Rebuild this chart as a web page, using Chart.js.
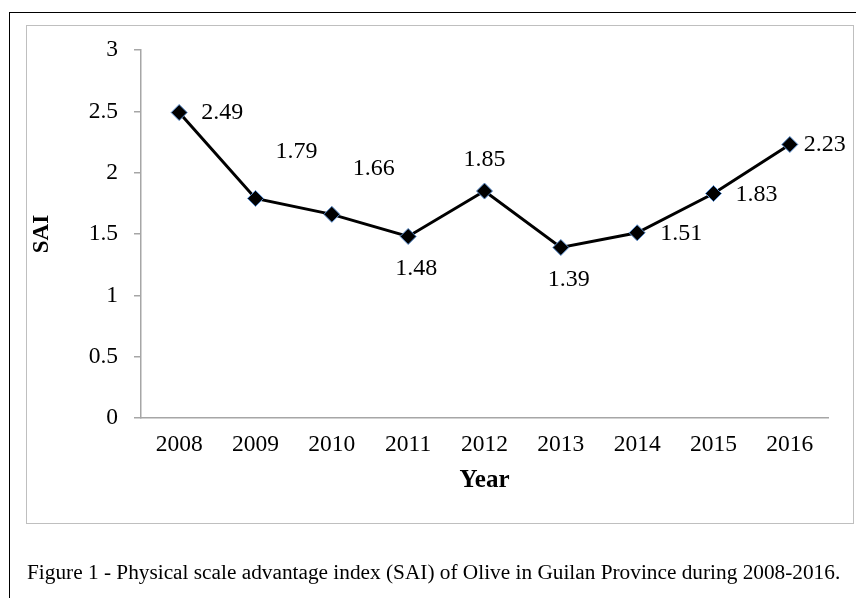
<!DOCTYPE html>
<html>
<head>
<meta charset="utf-8">
<script src="https://cdn.jsdelivr.net/npm/chart.js@4"></script>
<style>
  html, body { margin:0; padding:0; background:#fff; width:856px; height:598px; overflow:hidden; }
  #outer { position:absolute; left:9px; top:12px; width:900px; height:700px; border:1.5px solid #000; box-sizing:border-box; }
  #inner { position:absolute; left:26px; top:25px; width:828px; height:499px; border:1.5px solid #bfbfbf; box-sizing:border-box; }
  #wrap { position:absolute; left:0; top:0; width:856px; height:598px; }
  #caption { position:absolute; left:27px; top:562px; line-height:1; font-family:'Liberation Serif','Times New Roman',serif; font-size:21.3px; color:#000; white-space:nowrap; }
</style>
</head>
<body>
<div id="outer"></div>
<div id="inner"></div>
<div id="wrap"><canvas id="c" width="856" height="598"></canvas></div>
<div id="caption">Figure 1 - Physical scale advantage index (SAI) of Olive in Guilan Province during 2008-2016.</div>
<script>
const years = ['2008','2009','2010','2011','2012','2013','2014','2015','2016'];
const saiValues = [2.49, 1.79, 1.66, 1.48, 1.85, 1.39, 1.51, 1.83, 2.23];
const yTicks = [0, 0.5, 1, 1.5, 2, 2.5, 3];
// label placement relative to each point (style only)
const labelOffsets = [[22,0,'left'],[41,-47,'center'],[42,-46,'center'],[8,32,'center'],[0,-31,'center'],[8,32,'center'],[23,1,'left'],[22,1,'left'],[14,0,'left']];

const serif = "'Liberation Serif','Times New Roman',serif";

const labelPlugin = {
  id: 'pointLabels',
  afterDatasetsDraw(chart) {
    const ctx = chart.ctx;
    const meta = chart.getDatasetMeta(0);
    ctx.save();
    ctx.font = "24px " + serif;
    ctx.fillStyle = '#000';
    ctx.textBaseline = 'middle';
    meta.data.forEach((pt, i) => {
      const o = labelOffsets[i];
      ctx.textAlign = o[2];
      ctx.fillText(saiValues[i].toFixed(2), pt.x + o[0], pt.y + o[1]);
    });
    ctx.restore();
  }
};

new Chart(document.getElementById('c'), {
  type: 'line',
  data: {
    labels: years,
    datasets: [{
      data: saiValues,
      borderColor: '#000',
      borderWidth: 3,
      pointStyle: 'rectRot',
      pointRadius: 8,
      pointHoverRadius: 8,
      pointBackgroundColor: '#000',
      pointBorderColor: '#5b8fd0',
      pointBorderWidth: 1,
      tension: 0,
      fill: false
    }]
  },
  options: {
    responsive: false,
    animation: false,
    events: [],
    layout: { autoPadding: false, padding: { left: 26, top: 50, right: 28, bottom: 80 } },
    plugins: { legend: { display: false }, tooltip: { enabled: false } },
    scales: {
      x: {
        type: 'category',
        offset: true,
        grid: { display: true, drawOnChartArea: false, drawTicks: false },
        border: { display: true, color: '#a6a6a6', width: 1.5 },
        ticks: { color: '#000', font: { family: serif, size: 23.5 }, padding: 13, maxRotation: 0, autoSkip: false },
        title: { display: true, text: 'Year', color: '#000', font: { family: serif, size: 25, weight: 'bold' }, padding: { top: 0, bottom: 22 } },
        afterFit(s) { s.height = 100; }
      },
      y: {
        min: 0, max: 3,
        afterBuildTicks(s) { s.ticks = yTicks.map(v => ({ value: v })); },
        grid: { drawOnChartArea: false, drawTicks: true, tickLength: 7, color: '#a6a6a6', lineWidth: 1.5 },
        border: { display: true, color: '#a6a6a6', width: 1.5 },
        ticks: { color: '#000', font: { family: serif, size: 23.5 }, padding: 16, callback: v => String(v) },
        title: { display: true, text: 'SAI', color: '#000', font: { family: serif, size: 23, weight: 'bold' }, padding: { top: 2, bottom: 0 } },
        afterFit(s) { s.width = 115; }
      }
    }
  },
  plugins: [labelPlugin]
});
</script>
</body>
</html>
